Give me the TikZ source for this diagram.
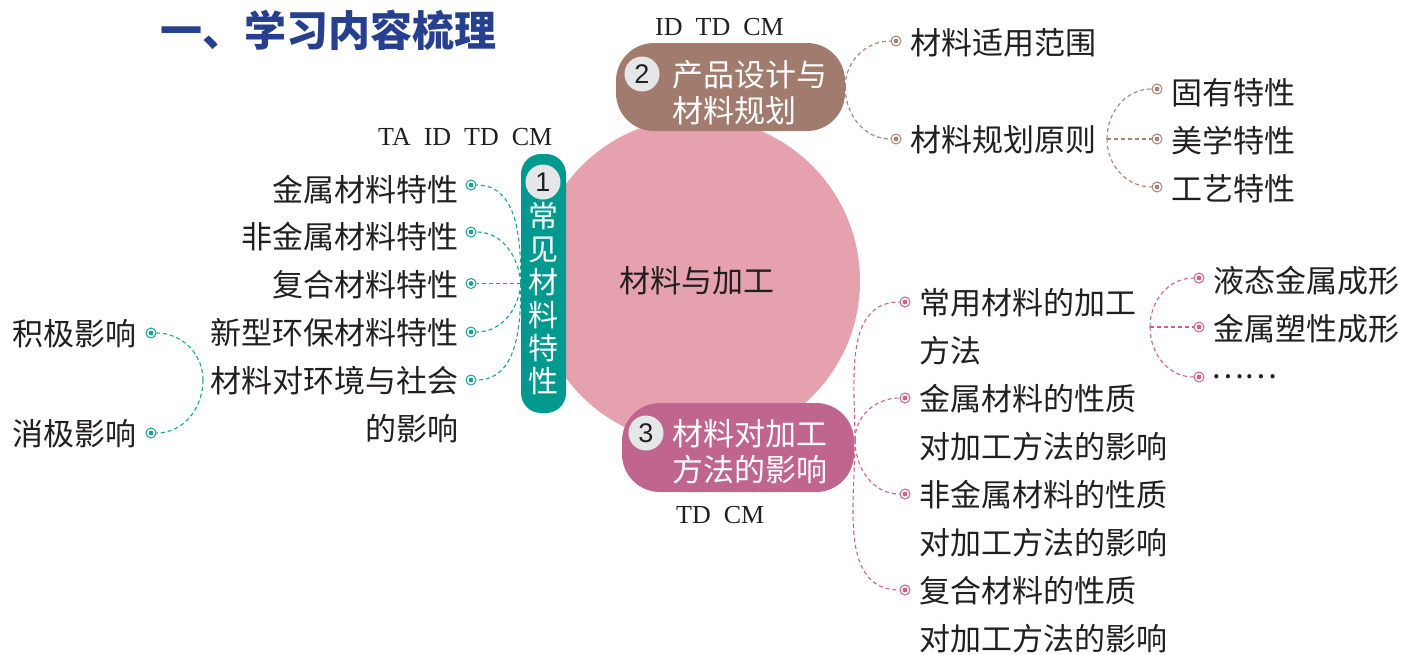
\documentclass[tikz,border=0pt]{standalone}
\usepackage{fontspec}
\setmainfont{Noto Sans CJK SC}
\newfontfamily\lserif{Liberation Serif}
\newfontfamily\lsans{Liberation Sans}
\definecolor{ink}{RGB}{35,31,32}
\definecolor{cteal}{RGB}{0,153,143}
\definecolor{cbrown}{RGB}{161,123,109}
\definecolor{cpink}{RGB}{192,102,142}
\definecolor{ccore}{RGB}{229,162,174}
\definecolor{cgrey}{RGB}{229,230,232}
\definecolor{ctitle}{RGB}{38,64,143}
\definecolor{lteal}{RGB}{26,160,150}
\definecolor{lbrown}{RGB}{168,128,116}
\definecolor{lpink}{RGB}{204,96,146}
\tikzset{
  numc/.style={circle, fill=cgrey, minimum size=35pt, inner sep=0pt, text=ink, font=\lsans\fontsize{27}{27}\selectfont},
  mk/.style={circle, draw=#1, fill=white, line width=1pt, minimum size=10pt, inner sep=0pt,
    path picture={\fill[#1] (path picture bounding box.center) circle (2.4pt);}},
  con/.style={draw=#1, dash pattern=on 4pt off 3pt, line width=1.1pt},
  lab/.style={inner sep=0pt, text=ink, font=\fontsize{31}{48}\selectfont},
  tag/.style={inner sep=0pt, text=ink, font=\lserif\fontsize{26}{26}\selectfont},
  boxtxt/.style={inner sep=0pt, text=white, align=left, font=\fontsize{31}{36.5}\selectfont},
  vtext/.style={inner sep=0pt, text=white, align=center, font=\fontsize{30}{33}\selectfont},
  mainbox/.style={fill=#1, rounded corners=38pt, inner sep=0pt}
}
\begin{document}
\begin{tikzpicture}[x=1pt,y=-1pt]
\fill[white] (0,0) rectangle (1406,654);
\useasboundingbox (0,0) rectangle (1406,654);

% title
\node[inner sep=0pt, anchor=base west, text=ctitle, font=\bfseries\fontsize{42}{42}\selectfont] (title) at (160,46) {一、学习内容梳理};

% core
\node[circle, fill=ccore, minimum size=326pt, inner sep=0pt, text=ink, font=\fontsize{31}{31}\selectfont] (core) at (697,281) {材料与加工};

% box 1
\node[fill=cteal, rounded corners=20pt, inner sep=0pt, minimum width=45pt, minimum height=259pt] (b1) at (543.5,283.5) {};
\node[numc] (n1) at (543,182) {1};
\node[vtext] (t1) at (543,299) {常\\见\\材\\料\\特\\性};
\node[tag, anchor=base west] (g1) at (378,145) {TA\hspace{13pt}ID\hspace{13pt}TD\hspace{13pt}CM};

% box 2
\node[mainbox=cbrown, minimum width=229pt, minimum height=88pt] (b2) at (730.5,87) {};
\node[numc] (n2) at (642,74) {2};
\node[boxtxt, anchor=base west] (t2) at (672,122.5) {产品设计与\\材料规划};
\node[tag, anchor=base west] (g2) at (655,35) {ID\hspace{13pt}TD\hspace{13pt}CM};

% box 3
\node[mainbox=cpink, minimum width=232pt, minimum height=89pt] (b3) at (738,447.5) {};
\node[numc] (n3) at (646,433) {3};
\node[boxtxt, anchor=base west] (t3) at (672,481.5) {材料对加工\\方法的影响};
\node[tag, anchor=base west] (g3) at (676,523) {TD\hspace{13pt}CM};

% left branch
\node[lab, anchor=base east] (l1) at (459,201) {金属材料特性};
\node[lab, anchor=base east] (l2) at (459,248) {非金属材料特性};
\node[lab, anchor=base east] (l3) at (459,296) {复合材料特性};
\node[lab, anchor=base east] (l4) at (459,344) {新型环保材料特性};
\node[lab, anchor=base east, align=right] (l5) at (459,440) {材料对环境与社会\\的影响};
\node[mk=lteal] (dl1) at (471,185) {};
\node[mk=lteal] (dl2) at (471,232) {};
\node[mk=lteal] (dl3) at (471,283.5) {};
\node[mk=lteal] (dl4) at (471,332) {};
\node[mk=lteal] (dl5) at (471,380) {};
\draw[con=lteal] (b1.west) to[out=90,in=0] (dl1);
\draw[con=lteal] (b1.west) to[out=95,in=0] (dl2);
\draw[con=lteal] (b1.west) -- (dl3);
\draw[con=lteal] (b1.west) to[out=-95,in=0] (dl4);
\draw[con=lteal] (b1.west) to[out=-90,in=0] (dl5);

\coordinate (j1) at (203,380);
\node[lab, anchor=base east] (l6) at (137,345) {积极影响};
\node[lab, anchor=base east] (l7) at (137,445) {消极影响};
\node[mk=lteal] (dl6) at (151,333) {};
\node[mk=lteal] (dl7) at (151,433) {};
\draw[con=lteal] (j1) to[out=90,in=0] (dl6);
\draw[con=lteal] (j1) to[out=-90,in=0] (dl7);

% top branch
\node[mk=lbrown] (d21) at (896,41) {};
\node[mk=lbrown] (d22) at (896,139) {};
\node[lab, anchor=base west] (r21) at (910,54) {材料适用范围};
\node[lab, anchor=base west] (r22) at (910,151) {材料规划原则};
\draw[con=lbrown] (b2.east) to[out=90,in=180] (d21);
\draw[con=lbrown] (b2.east) to[out=-90,in=180] (d22);

\coordinate (j3) at (1107,139);
\node[mk=lbrown] (d23) at (1157,89) {};
\node[mk=lbrown] (d24) at (1157,139) {};
\node[mk=lbrown] (d25) at (1157,187) {};
\node[lab, anchor=base west] (r23) at (1171,104) {固有特性};
\node[lab, anchor=base west] (r24) at (1171,152) {美学特性};
\node[lab, anchor=base west] (r25) at (1171,200) {工艺特性};
\draw[con=lbrown] (j3) to[out=90,in=180] (d23);
\draw[con=lbrown] (j3) -- (d24);
\draw[con=lbrown] (j3) to[out=-90,in=180] (d25);

% bottom-right branch
\coordinate (j4) at (855,440);
\node[mk=lpink] (d31) at (905,302) {};
\node[mk=lpink] (d32) at (905,398) {};
\node[mk=lpink] (d33) at (905,494) {};
\node[mk=lpink] (d34) at (905,590) {};
\node[lab, anchor=base west, align=left] (r31) at (919,362) {常用材料的加工\\方法};
\node[lab, anchor=base west, align=left] (r32) at (919,458) {金属材料的性质\\对加工方法的影响};
\node[lab, anchor=base west, align=left] (r33) at (919,554) {非金属材料的性质\\对加工方法的影响};
\node[lab, anchor=base west, align=left] (r34) at (919,650) {复合材料的性质\\对加工方法的影响};
\draw[con=lpink] (j4) to[out=90,in=180] (d31);
\draw[con=lpink] (j4) to[out=90,in=180] (d32);
\draw[con=lpink] (j4) to[out=-90,in=180] (d33);
\draw[con=lpink] (j4) to[out=-90,in=180] (d34);

\coordinate (j5) at (1150,327);
\node[mk=lpink] (d35) at (1199,278) {};
\node[mk=lpink] (d36) at (1199,327) {};
\node[mk=lpink] (d37) at (1199,377) {};
\node[lab, anchor=base west] (r35) at (1213,292) {液态金属成形};
\node[lab, anchor=base west] (r36) at (1213,340) {金属塑性成形};
\node[lab, anchor=west] (r37) at (1211,377) {……};
\draw[con=lpink] (j5) to[out=90,in=180] (d35);
\draw[con=lpink] (j5) -- (d36);
\draw[con=lpink] (j5) to[out=-90,in=180] (d37);
\end{tikzpicture}
\end{document}
